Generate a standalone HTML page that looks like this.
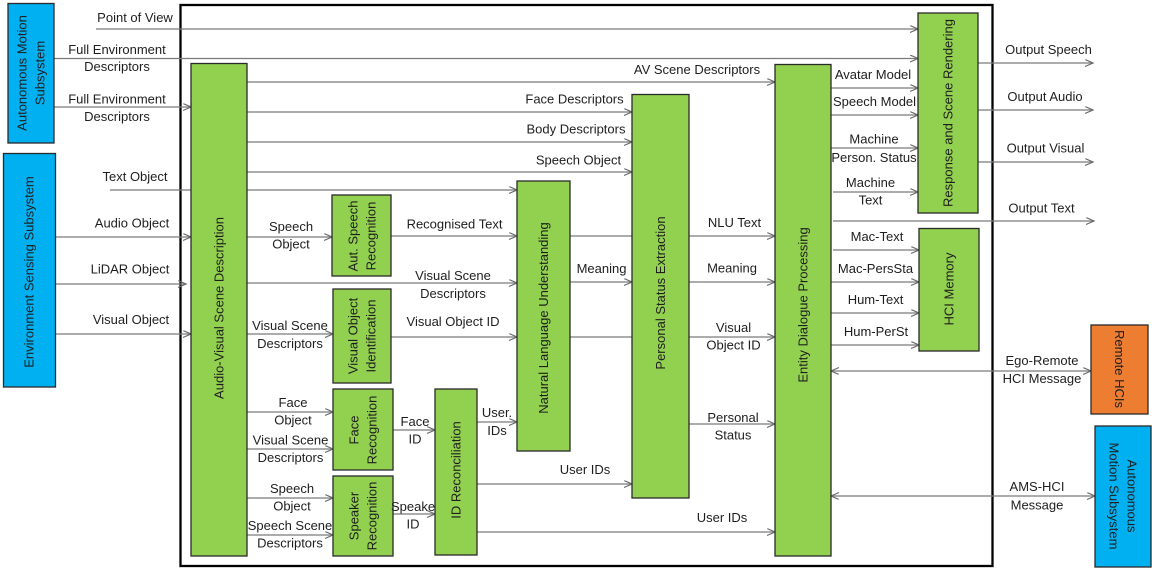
<!DOCTYPE html>
<html><head><meta charset="utf-8"><style>
html,body{margin:0;padding:0;background:#fff;}
svg{display:block;}
text{font-family:"Liberation Sans",Arial,sans-serif;font-size:13px;fill:#1e1e1e;}
.l{stroke:#7a7a7a;stroke-width:1.3;fill:none;}
.g{fill:#92D050;stroke:#2a2a2a;stroke-width:1.3;}
.b{fill:#00B0F0;stroke:#2a2a2a;stroke-width:1.3;}
.o{fill:#ED7D31;stroke:#2a2a2a;stroke-width:1.3;}
</style></head><body>
<svg width="1152" height="570" viewBox="0 0 1152 570" xmlns="http://www.w3.org/2000/svg">
<defs>
<marker id="a" markerUnits="userSpaceOnUse" markerWidth="10" markerHeight="9" refX="8" refY="3.5" orient="auto-start-reverse">
<path d="M0,0 L8,3.5 L0,7" fill="none" stroke="#6a6a6a" stroke-width="1.2"/>
</marker>
</defs>

<!-- main frame -->
<rect x="180.5" y="5" width="812" height="561" fill="none" stroke="#000" stroke-width="2.3"/>

<!-- connectors -->
<g class="l" marker-end="url(#a)">
<line x1="96" y1="29" x2="918" y2="29"/>
<line x1="54" y1="58.5" x2="918" y2="58.5"/>
<line x1="54" y1="107" x2="191" y2="107"/>
<line x1="110" y1="190" x2="517" y2="190"/>
<line x1="54" y1="237" x2="191" y2="237"/>
<line x1="54" y1="284" x2="186" y2="284"/>
<line x1="51" y1="334" x2="191" y2="334"/>

<line x1="247" y1="82" x2="775" y2="82"/>
<line x1="247" y1="112" x2="632" y2="112"/>
<line x1="247" y1="142" x2="632" y2="142"/>
<line x1="247" y1="172" x2="632" y2="172"/>
<line x1="247" y1="237" x2="332" y2="237"/>
<line x1="247" y1="283" x2="517" y2="283"/>
<line x1="247" y1="334" x2="333" y2="334"/>
<line x1="247" y1="412" x2="333" y2="412"/>
<line x1="247" y1="449" x2="333" y2="449"/>
<line x1="247" y1="498" x2="333" y2="498"/>
<line x1="247" y1="535" x2="333" y2="535"/>

<line x1="391" y1="236" x2="517" y2="236"/>
<line x1="391" y1="337" x2="517" y2="337"/>
<line x1="393" y1="430" x2="435" y2="430"/>
<line x1="393" y1="514" x2="435" y2="514"/>

<line x1="477" y1="422" x2="517" y2="422"/>
<line x1="477" y1="484" x2="632" y2="484"/>
<line x1="477" y1="532" x2="775" y2="532"/>

<line x1="570" y1="236" x2="775" y2="236"/>
<line x1="570" y1="282" x2="632" y2="282"/>

<line x1="689" y1="282" x2="775" y2="282"/>
<line x1="689" y1="337" x2="775" y2="337"/>
<line x1="689" y1="424" x2="775" y2="424"/>

<line x1="831" y1="88" x2="918" y2="88"/>
<line x1="831" y1="115" x2="918" y2="115"/>
<line x1="831" y1="148" x2="918" y2="148"/>
<line x1="833" y1="192" x2="918" y2="192"/>
<line x1="833" y1="221" x2="1094" y2="221"/>
<line x1="833" y1="250" x2="919" y2="250"/>
<line x1="831" y1="282" x2="919" y2="282"/>
<line x1="831" y1="313" x2="919" y2="313"/>
<line x1="831" y1="345" x2="919" y2="345"/>

<line x1="978" y1="63" x2="1093" y2="63"/>
<line x1="978" y1="110" x2="1093" y2="110"/>
<line x1="978" y1="162" x2="1093" y2="162"/>

<line x1="831" y1="371" x2="1091" y2="371" marker-start="url(#a)"/>
<line x1="831" y1="496" x2="1095" y2="496" marker-start="url(#a)"/>
</g>
<line class="l" x1="570" y1="337" x2="632" y2="337"/>

<!-- boxes -->
<rect class="b" x="8" y="3.5" width="46" height="139.5"/>
<rect class="b" x="3.5" y="153.5" width="52" height="233.5"/>
<rect class="g" x="191" y="63.5" width="56" height="492.5"/>
<rect class="g" x="332" y="195" width="59" height="81"/>
<rect class="g" x="333" y="289" width="58" height="94"/>
<rect class="g" x="333" y="389" width="60" height="81"/>
<rect class="g" x="333" y="476" width="60" height="80"/>
<rect class="g" x="435" y="389" width="42" height="166"/>
<rect class="g" x="517" y="181" width="53" height="270"/>
<rect class="g" x="632" y="94.5" width="57" height="403.5"/>
<rect class="g" x="775" y="64.5" width="56" height="491.5"/>
<rect class="g" x="918" y="13" width="60" height="200"/>
<rect class="g" x="919" y="228.5" width="60" height="122.5"/>
<rect class="o" x="1091" y="325" width="57" height="89"/>
<rect class="b" x="1095" y="426" width="56" height="141"/>

<!-- rotated box labels -->
<text transform="translate(31,73) rotate(-90)" text-anchor="middle"><tspan x="0" y="-4.5">Autonomous Motion</tspan><tspan x="0" y="13.5">Subsystem</tspan></text>
<text transform="translate(29,272) rotate(-90)" text-anchor="middle"><tspan x="0" y="4.5">Environment Sensing Subsystem</tspan></text>
<text transform="translate(219,308) rotate(-90)" text-anchor="middle"><tspan x="0" y="4.5">Audio-Visual Scene Description</tspan></text>
<text transform="translate(362,236) rotate(-90)" text-anchor="middle"><tspan x="0" y="-4.5">Aut. Speech</tspan><tspan x="0" y="13.5">Recognition</tspan></text>
<text transform="translate(362,336) rotate(-90)" text-anchor="middle"><tspan x="0" y="-4.5">Visual Object</tspan><tspan x="0" y="13.5">Identification</tspan></text>
<text transform="translate(363,430) rotate(-90)" text-anchor="middle"><tspan x="0" y="-4.5">Face</tspan><tspan x="0" y="13.5">Recognition</tspan></text>
<text transform="translate(363,516) rotate(-90)" text-anchor="middle"><tspan x="0" y="-4.5">Speaker</tspan><tspan x="0" y="13.5">Recognition</tspan></text>
<text transform="translate(456,470) rotate(-90)" text-anchor="middle"><tspan x="0" y="4.5">ID Reconciliation</tspan></text>
<text transform="translate(543.5,318) rotate(-90)" text-anchor="middle"><tspan x="0" y="4.5">Natural Language Understanding</tspan></text>
<text transform="translate(660.5,293) rotate(-90)" text-anchor="middle"><tspan x="0" y="4.5">Personal Status Extraction</tspan></text>
<text transform="translate(803,305) rotate(-90)" text-anchor="middle"><tspan x="0" y="4.5">Entity Dialogue Processing</tspan></text>
<text transform="translate(948,113) rotate(-90)" text-anchor="middle"><tspan x="0" y="4.5">Response and Scene Rendering</tspan></text>
<text transform="translate(949,289) rotate(-90)" text-anchor="middle"><tspan x="0" y="4.5">HCI Memory</tspan></text>
<text transform="translate(1119.5,369) rotate(90)" text-anchor="middle"><tspan x="0" y="4.5">Remote HCIs</tspan></text>
<text transform="translate(1123,496) rotate(90)" text-anchor="middle"><tspan x="0" y="-4.5">Autonomous</tspan><tspan x="0" y="13.5">Motion Subsystem</tspan></text>

<!-- connector labels -->
<g text-anchor="middle">
<text x="135" y="22">Point of View</text>
<text x="117" y="54">Full Environment</text>
<text x="117" y="71">Descriptors</text>
<text x="117" y="103.5">Full Environment</text>
<text x="117" y="121">Descriptors</text>
<text x="135" y="181">Text Object</text>
<text x="132" y="227.5">Audio Object</text>
<text x="130" y="273.5">LiDAR Object</text>
<text x="131" y="324">Visual Object</text>

<text x="291" y="231">Speech</text>
<text x="291" y="248.5">Object</text>
<text x="290" y="330">Visual Scene</text>
<text x="290" y="348">Descriptors</text>
<text x="293" y="407">Face</text>
<text x="293" y="424.5">Object</text>
<text x="290.5" y="444.5">Visual Scene</text>
<text x="290.5" y="462">Descriptors</text>
<text x="292" y="493">Speech</text>
<text x="292" y="510.5">Object</text>
<text x="290" y="530">Speech Scene</text>
<text x="290" y="547.5">Descriptors</text>

<text x="415" y="426">Face</text>
<text x="415" y="443.5">ID</text>
<text x="413" y="511">Speake</text>
<text x="413" y="528.5">ID</text>
<text x="497" y="417">User.</text>
<text x="497" y="435">IDs</text>

<text x="454.5" y="228.5">Recognised Text</text>
<text x="453" y="280">Visual Scene</text>
<text x="453" y="298">Descriptors</text>
<text x="453" y="326">Visual Object ID</text>

<text x="697" y="74">AV Scene Descriptors</text>
<text x="574.5" y="103.5">Face Descriptors</text>
<text x="576" y="133.5">Body Descriptors</text>
<text x="578.5" y="164.5">Speech Object</text>

<text x="601.5" y="273">Meaning</text>
<text x="585" y="474">User IDs</text>
<text x="722" y="522">User IDs</text>

<text x="734.5" y="227">NLU Text</text>
<text x="732" y="272.5">Meaning</text>
<text x="733.5" y="332">Visual</text>
<text x="733.5" y="349.5">Object ID</text>
<text x="733" y="422">Personal</text>
<text x="733" y="439.5">Status</text>

<text x="873" y="79">Avatar Model</text>
<text x="874.5" y="106">Speech Model</text>
<text x="874" y="143.5">Machine</text>
<text x="874" y="162">Person. Status</text>
<text x="870.5" y="187">Machine</text>
<text x="870.5" y="204.5">Text</text>
<text x="877" y="241">Mac-Text</text>
<text x="875.5" y="273">Mac-PersSta</text>
<text x="875.5" y="304">Hum-Text</text>
<text x="876" y="336">Hum-PerSt</text>

<text x="1048.5" y="54">Output Speech</text>
<text x="1045" y="101">Output Audio</text>
<text x="1045.5" y="152.5">Output Visual</text>
<text x="1041.5" y="212.5">Output Text</text>
<text x="1042" y="365">Ego-Remote</text>
<text x="1042" y="383">HCI Message</text>
<text x="1037" y="491">AMS-HCI</text>
<text x="1037" y="509.5">Message</text>
</g>
</svg>
</body></html>
